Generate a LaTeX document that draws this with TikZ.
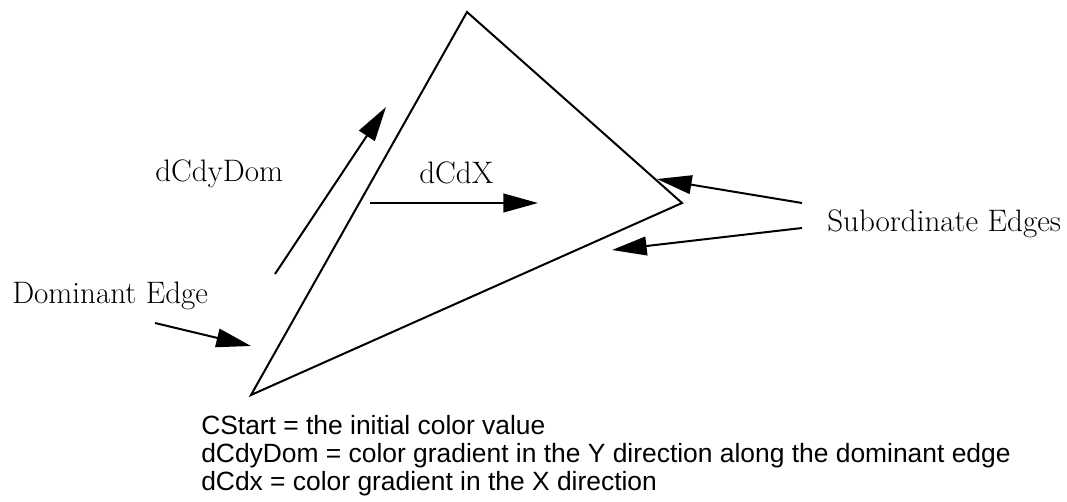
\documentclass[tikz,border=0pt]{standalone}
\usepackage{fontspec}
\newfontfamily\notefont{Liberation Sans}
\usetikzlibrary{arrows.meta}
\begin{document}
\begin{tikzpicture}[x=0.75pt,y=-0.75pt,
  edge/.style={line width=1.5pt,line join=miter},
  pointer/.style={line width=1.5pt,-{Triangle[length=26pt,width=14pt]}},
  label/.style={inner sep=0pt,anchor=base west,font=\fontsize{23.3}{26}\selectfont},
  note/.style={inner sep=0pt,anchor=base west,font=\notefont\fontsize{19.8}{21}\selectfont}]
\useasboundingbox (0,0) rectangle (1067,502);
% triangle
\coordinate (T) at (467,12);
\coordinate (R) at (682,203);
\coordinate (B) at (251,395);
\draw[edge] (T) -- (R) -- (B) -- cycle;
% labels
\node[label] (dom) at (12,304) {Dominant Edge};
\node[label] (dy) at (155,182) {dCdyDom};
\node[label] (dx) at (419,184) {dCdX};
\node[label] (sub) at (827,232) {Subordinate Edges};
% arrow ends
\coordinate (dyS) at (275,274);
\coordinate (dyE) at (386,107);
\coordinate (dxS) at (370,203);
\coordinate (dxE) at (538,203);
\coordinate (domS) at (155,323);
\coordinate (domE) at (251,346);
\coordinate (s1S) at (802,203);
\coordinate (s1E) at (657,179);
\coordinate (s2S) at (802,228);
\coordinate (s2E) at (612,250);
\draw[pointer] (dyS) -- (dyE);
\draw[pointer] (dxS) -- (dxE);
\draw[pointer] (domS) -- (domE);
\draw[pointer] (s1S) -- (s1E);
\draw[pointer] (s2S) -- (s2E);
% notes
\node[note] (n1) at (201,434) {CStart = the initial color value};
\node[note] (n2) at (201,462) {dCdyDom = color gradient in the Y direction along the dominant edge};
\node[note] (n3) at (201,490) {dCdx = color gradient in the X direction};
\end{tikzpicture}
\end{document}
